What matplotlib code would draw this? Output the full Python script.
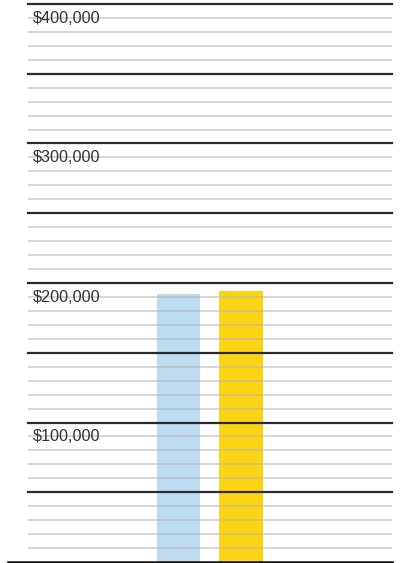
import matplotlib
matplotlib.use("Agg")
import matplotlib.pyplot as plt
import matplotlib.transforms as mtransforms
import numpy as np

# Data
categories = ["A", "B"]
values = [192000, 194500]
bar_colors = ["#bddcf0", "#fdd413"]
tick_values = [100000, 200000, 300000, 400000]
tick_labels = ["$100,000", "$200,000", "$300,000", "$400,000"]

W, H, DPI = 402, 563, 100
fig = plt.figure(figsize=(W / DPI, H / DPI), dpi=DPI)
ax = fig.add_axes([28 / W, 1 / H, 364 / W, 558 / H])

x = np.arange(len(categories))
ax.bar(x, values, width=0.69, color=bar_colors, zorder=1)

ax.set_xlim(-2.408, 3.416)
ax.set_ylim(0, 400000)

# Grid: light lines every 10k, dark lines every 50k
for v in range(10000, 400001, 10000):
    if v % 50000 == 0:
        ax.axhline(v, color="#2b2b2b", lw=1.6, zorder=3, clip_on=False)
    else:
        ax.axhline(v, color="#b5b5b5", lw=1.1, alpha=0.7, zorder=2)

# Baseline extends past the left edge of the grid
trans = mtransforms.blended_transform_factory(fig.transFigure, ax.transData)
ax.plot([8 / W, 392 / W], [0, 0], transform=trans, color="#111111",
        lw=1.8, clip_on=False, zorder=4)

for v, lab in zip(tick_values, tick_labels):
    ax.annotate(lab, xy=(0, v), xycoords=("axes fraction", "data"),
                xytext=(3.5, -10.2), textcoords="offset points",
                ha="left", va="center", fontsize=11.7,
                family=["Liberation Sans", "DejaVu Sans"], color="#333333",
                zorder=5)

for s in ax.spines.values():
    s.set_visible(False)
ax.set_xticks([])
ax.set_yticks([])

fig.savefig("out.png", dpi=DPI)
